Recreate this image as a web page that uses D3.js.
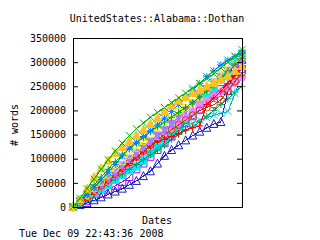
<!DOCTYPE html>
<html>
<head>
<meta charset="utf-8">
<script src="https://cdn.jsdelivr.net/npm/d3@7/dist/d3.min.js"></script>
<style>
  body { margin: 0; background: #fff; }
  text { font-family: "DejaVu Sans Mono", "Liberation Mono", monospace; font-size: 10px; fill: #000; }
</style>
</head>
<body>
<svg id="chart" width="320" height="240"></svg>
<script>
let title = 'UnitedStates::Alabama::Dothan'
let stamp = 'Tue Dec 09 22:43:36 2008'
let yTicks = [0, 50000, 100000, 150000, 200000, 250000, 300000, 350000]

let dates = ['2008-11-15', '2008-11-16', '2008-11-17', '2008-11-18', '2008-11-19',
  '2008-11-20', '2008-11-21', '2008-11-22', '2008-11-23', '2008-11-24', '2008-11-25',
  '2008-11-26', '2008-11-27', '2008-11-28', '2008-11-29', '2008-11-30', '2008-12-01',
  '2008-12-02', '2008-12-03', '2008-12-04', '2008-12-05', '2008-12-06', '2008-12-07',
  '2008-12-08', '2008-12-09']

// word counts in thousands, one value per date
let magentaBox = [0, 6, 12, 20, 28, 36, 44, 52, 62, 78, 90, 104, 118, 132, 146, 160, 174, 188, 202, 216, 230, 244, 258, 272, 286]
let cyanBox = [0, 8, 16, 26, 36, 46, 56, 66, 76, 84, 96, 110, 124, 138, 152, 166, 180, 196, 212, 228, 246, 264, 282, 300, 318]
let tealPlus = [0, 8, 18, 28, 38, 48, 58, 68, 78, 88, 98, 108, 118, 128, 140, 150, 158, 166, 176, 188, 200, 212, 224, 238, 250]
let navyTri = [0, 4, 8, 14, 20, 26, 32, 38, 46, 54, 64, 74, 90, 106, 118, 128, 138, 148, 156, 164, 172, 176, 240, 290, 305]
let cyanCross = [0, 10, 22, 34, 46, 58, 70, 80, 90, 100, 108, 116, 122, 132, 146, 158, 168, 174, 180, 185, 190, 194, 198, 235, 275]
let pinkDot = [0, 10, 20, 30, 42, 54, 66, 78, 90, 102, 114, 126, 138, 150, 162, 174, 186, 198, 210, 220, 230, 238, 246, 256, 268]
let brownRing = [0, 10, 20, 32, 44, 56, 68, 80, 92, 104, 116, 128, 140, 150, 160, 170, 180, 190, 200, 206, 212, 222, 240, 260, 278]
let redPlus = [0, 8, 18, 30, 42, 54, 66, 78, 90, 102, 114, 126, 136, 140, 146, 152, 160, 164, 168, 212, 226, 240, 256, 272, 290]
let violetTri = [0, 12, 24, 36, 48, 60, 72, 86, 100, 112, 124, 136, 148, 160, 172, 186, 200, 214, 228, 244, 258, 270, 282, 292, 300]
let yellowRing = [0, 12, 24, 38, 52, 66, 80, 94, 108, 122, 136, 150, 164, 176, 188, 198, 206, 216, 228, 242, 258, 274, 292, 306, 312]
let greenPlus = [0, 14, 30, 46, 62, 78, 94, 108, 120, 132, 144, 156, 166, 176, 186, 196, 206, 216, 228, 240, 252, 266, 280, 294, 308]
let blueStar = [0, 12, 26, 40, 56, 72, 88, 106, 122, 134, 146, 158, 170, 184, 198, 212, 226, 242, 256, 270, 282, 294, 304, 312, 318]
let goldTri = [0, 16, 38, 62, 80, 96, 112, 124, 136, 148, 160, 172, 184, 198, 210, 220, 228, 236, 243, 250, 257, 264, 272, 282, 292]
let greenCross = [0, 18, 38, 58, 78, 98, 116, 132, 148, 162, 174, 186, 196, 206, 216, 226, 236, 246, 256, 266, 276, 288, 300, 312, 326]

let series = [
  { values: magentaBox, color: '#c000ff', mark: 'box' },
  { values: cyanBox, color: '#00eeee', mark: 'fbox' },
  { values: tealPlus, color: '#00a060', mark: 'plus' },
  { values: navyTri, color: '#2020c0', mark: 'tri' },
  { values: cyanCross, color: '#00c0c0', mark: 'cross' },
  { values: pinkDot, color: '#ff80ff', mark: 'fcircle' },
  { values: brownRing, color: '#c04000', mark: 'circle' },
  { values: redPlus, color: '#ff0000', mark: 'plus' },
  { values: violetTri, color: '#a080ff', mark: 'fitri' },
  { values: yellowRing, color: '#f0f000', mark: 'circle' },
  { values: greenPlus, color: '#00b000', mark: 'plus' },
  { values: blueStar, color: '#0080ff', mark: 'star' },
  { values: goldTri, color: '#ffc020', mark: 'ftri' },
  { values: greenCross, color: '#00c000', mark: 'cross' },
]

let margin = { left: 73, top: 38, right: 78, bottom: 33 }
let width = 320 - margin.left - margin.right
let height = 240 - margin.top - margin.bottom
let parse = d3.timeParse('%Y-%m-%d')
let xDates = dates.map(parse)

let x = d3.scaleTime().domain(d3.extent(xDates)).range([0, width])
let y = d3.scaleLinear().domain([0, 350000]).range([height, 0])

function markPath(type, r) {
  switch (type) {
    case 'plus': return `M${-r},0H${r}M0,${-r}V${r}`
    case 'cross': return `M${-r},${-r}L${r},${r}M${-r},${r}L${r},${-r}`
    case 'star': return `M${-r},0H${r}M0,${-r}V${r}M${-r},${-r}L${r},${r}M${-r},${r}L${r},${-r}`
    case 'box': case 'fbox': return `M${-r},${-r}H${r}V${r}H${-r}Z`
    case 'tri': case 'ftri': return `M0,${-r - 1}L${r + 0.5},${r}H${-r - 0.5}Z`
    case 'fitri': return `M0,${r + 1}L${r + 0.5},${-r}H${-r - 0.5}Z`
    default: return d3.symbol(d3.symbolCircle, Math.PI * r * r)()
  }
}

let svg = d3.select('#chart')
let g = svg.append('g').attr('transform', `translate(${margin.left},${margin.top})`)

// data
let line = d3.line().x((d, i) => x(xDates[i])).y(d => y(d * 1000))
series.forEach(s => {
  let sg = g.append('g').classed('series', true)
  sg.append('path')
    .attr('d', line(s.values))
    .attr('fill', 'none')
    .attr('stroke', s.color)
    .attr('stroke-width', 1)
    .style('shape-rendering', 'crispEdges')
  let filled = s.mark[0] === 'f'
  sg.selectAll('path.mark')
    .data(s.values)
    .enter()
    .append('path')
    .classed('mark', true)
    .attr('transform', (d, i) => 'translate(' + x(xDates[i]) + ',' + y(d * 1000) + ')')
    .attr('d', markPath(s.mark, 3.5))
    .attr('fill', filled ? s.color : 'none')
    .attr('stroke', s.color)
    .attr('stroke-width', 1)
})

// frame and ticks
g.append('rect')
  .attr('x', 0.5).attr('y', 0.5)
  .attr('width', width).attr('height', height)
  .attr('fill', 'none').attr('stroke', '#000')

let yAxis = g.append('g')
  .call(d3.axisLeft(y).tickValues(yTicks).tickSize(-5).tickPadding(7).tickFormat(d3.format('d')))
yAxis.select('.domain').remove()
yAxis.selectAll('text').style('font-family', '"DejaVu Sans Mono", monospace').style('font-size', '10px')
let yAxisR = g.append('g').attr('transform', `translate(${width},0)`)
  .call(d3.axisRight(y).tickValues(yTicks).tickSize(-5).tickFormat(''))
yAxisR.select('.domain').remove()
g.selectAll('.tick line').attr('stroke', '#000')

// labels
svg.append('text').attr('x', 157).attr('y', 22).attr('text-anchor', 'middle').text(title)
svg.append('text').attr('transform', 'translate(18,125) rotate(-90)').attr('text-anchor', 'middle').text('# words')
svg.append('text').attr('x', 157).attr('y', 224).attr('text-anchor', 'middle').text('Dates')
svg.append('text').attr('x', 19).attr('y', 237).text(stamp)
</script>
</body>
</html>
